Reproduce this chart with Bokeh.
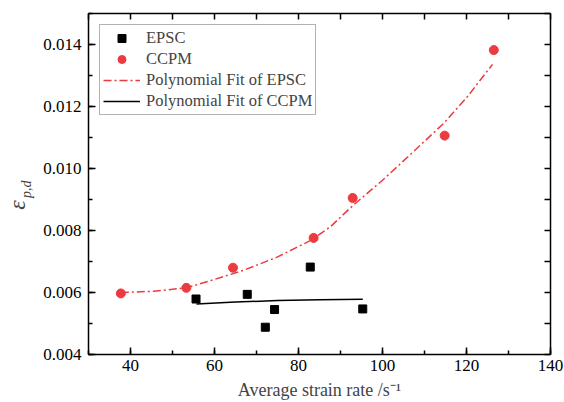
import math
from bokeh.plotting import figure
from bokeh.models import (Range1d, LinearAxis, SingleIntervalTicker, FixedTicker, NumeralTickFormatter,
                          Legend, LegendItem)
from bokeh.embed import file_html
from bokeh.resources import INLINE

# ---- data ----
epsc_x = [55.6, 67.8, 72.1, 74.3, 82.8, 95.3]
epsc_y = [0.00579, 0.00594, 0.00488, 0.00545, 0.00682, 0.00547]

ccpm_x = [37.7, 53.3, 64.4, 83.6, 92.9, 114.8, 126.5]
ccpm_y = [0.00597, 0.00615, 0.00680, 0.00776, 0.00905, 0.01106, 0.01382]

fit_red_x = [37.7, 45.6, 53.3, 59.0, 67.0, 74.9, 82.9, 87.6, 92.9, 100.0, 107.5, 114.6, 120.0, 126.2]
fit_red_y = [0.00600, 0.00604, 0.00615, 0.00638, 0.00672, 0.00714, 0.00768, 0.00812, 0.00880,
             0.00962, 0.01056, 0.01146, 0.01228, 0.01336]

fit_black_x = [55.7, 65.0, 75.0, 85.0, 95.3]
fit_black_y = [0.00563, 0.00569, 0.00574, 0.00577, 0.00578]

x_labels_interval = 20
y_labels_interval = 0.002

SERIF = "Liberation Serif"
RED = "#EC3B3F"
NB = "\u00a0"

p = figure(width=564, height=402, output_backend="svg", toolbar_location=None,
           x_range=Range1d(30, 140), y_range=Range1d(0.004, 0.015),
           min_border_left=88, min_border_right=14, min_border_top=13, min_border_bottom=48)
p.outline_line_color = None
p.xgrid.visible = False
p.ygrid.visible = False
p.background_fill_color = "white"
p.border_fill_color = "white"

xt = SingleIntervalTicker(interval=x_labels_interval, num_minor_ticks=2)
yt = SingleIntervalTicker(interval=y_labels_interval, num_minor_ticks=2)

def style(ax, labels=True, equal=False):
    ax.axis_line_width = 1.5
    ax.axis_line_color = "black"
    ax.major_tick_line_width = 1.5
    ax.minor_tick_line_width = 1.5
    ax.major_tick_in = 7
    ax.major_tick_out = 0
    ax.minor_tick_in = 7 if equal else 4
    ax.minor_tick_out = 0
    ax.major_label_text_font = SERIF
    ax.major_label_text_font_size = "17px"
    ax.major_label_text_color = "black"
    if not labels:
        ax.major_label_text_alpha = 0.0

xa = p.xaxis[0]
xa.ticker = xt
style(xa)
xa.major_label_standoff = 5
xa.axis_label = "Average strain rate /s\u207b\u00b9"
xa.axis_label_text_font = SERIF
xa.axis_label_text_font_style = "normal"
xa.axis_label_text_font_size = "18px"
xa.axis_label_standoff = 6

ya = p.yaxis[0]
ya.ticker = yt
ya.formatter = NumeralTickFormatter(format="0.000")
style(ya)
ya.major_label_standoff = 7
# subscript part of the y title (inner)
ya.axis_label = "p,d" + NB * 3
ya.axis_label_text_font = SERIF
ya.axis_label_text_font_style = "italic"
ya.axis_label_text_font_size = "14px"
ya.axis_label_standoff = 6

# outer (invisible) axis carrying the epsilon of the y title
eps_axis = LinearAxis(ticker=FixedTicker(ticks=[]))
eps_axis.axis_line_color = None
eps_axis.major_tick_in = 0
eps_axis.major_tick_out = 0
eps_axis.minor_tick_in = 0
eps_axis.minor_tick_out = 0
eps_axis.major_label_standoff = 0
eps_axis.major_label_text_font_size = "1px"
eps_axis.axis_label = "\u03b5" + NB * 7
eps_axis.axis_label_text_font = SERIF
eps_axis.axis_label_text_font_style = "italic"
eps_axis.axis_label_text_font_size = "24px"
eps_axis.axis_label_standoff = -13
p.add_layout(eps_axis, "left")

top = LinearAxis(ticker=SingleIntervalTicker(interval=10, num_minor_ticks=0))
style(top, labels=False, equal=True)
top.major_tick_in = 6
top.major_label_text_font_size = "1px"
p.add_layout(top, "above")

right = LinearAxis(ticker=SingleIntervalTicker(interval=0.001, num_minor_ticks=0))
style(right, labels=False, equal=True)
right.major_tick_in = 6
right.major_label_text_font_size = "1px"
p.add_layout(right, "right")

r_fit_red = p.line(fit_red_x, fit_red_y, line_color=RED, line_width=1.5, line_dash="8 3 2 3")
r_fit_black = p.line(fit_black_x, fit_black_y, line_color="black", line_width=1.5)
r_epsc = p.scatter(epsc_x, epsc_y, marker="square", size=8, fill_color="black", line_color="black")
r_ccpm = p.scatter(ccpm_x, ccpm_y, marker="circle", size=9, fill_color=RED, line_color=RED)

legend = Legend(items=[
    LegendItem(label="EPSC", renderers=[r_epsc]),
    LegendItem(label="CCPM", renderers=[r_ccpm]),
    LegendItem(label="Polynomial Fit of EPSC", renderers=[r_fit_red]),
    LegendItem(label="Polynomial Fit of CCPM", renderers=[r_fit_black]),
], location="top_left")
legend.margin = 11
legend.padding = 3
legend.spacing = 1
legend.glyph_width = 37
legend.glyph_height = 20
legend.label_height = 20
legend.label_standoff = 6
legend.label_text_font = SERIF
legend.label_text_font_size = "16.5px"
legend.border_line_color = "#666666"
legend.border_line_width = 1
legend.background_fill_alpha = 1.0
p.add_layout(legend)

open("out.html", "w").write(file_html(p, INLINE))
